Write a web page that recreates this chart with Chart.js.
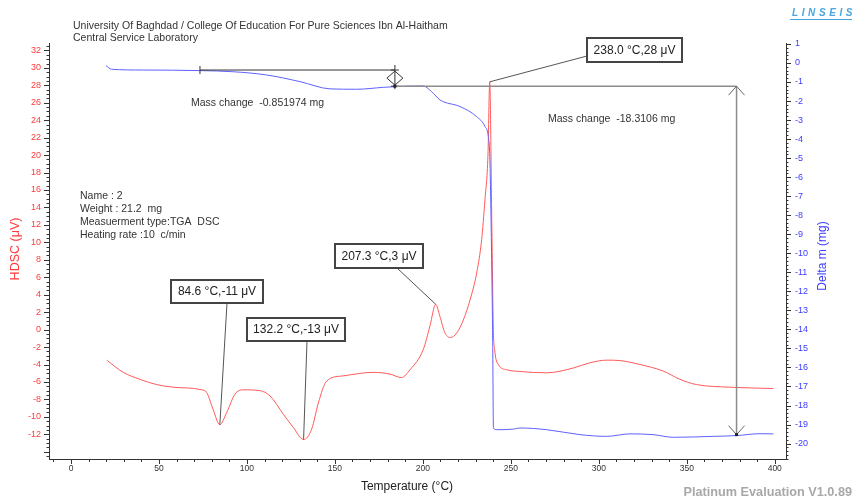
<!DOCTYPE html>
<html>
<head>
<meta charset="utf-8">
<title>TGA / DSC</title>
<script src="https://cdn.jsdelivr.net/npm/chart.js@4.4.1/dist/chart.umd.min.js"></script>
<style>
  html, body { margin: 0; padding: 0; background: #fff; }
  canvas { display: block; }
</style>
</head>
<body>
<canvas id="chart" width="856" height="501"></canvas>
<script>
// HDSC signal, left axis (µV)
const dscTemp = [20.3, 29.7, 39.2, 48.7, 58.1, 74.3, 77.1, 80.7, 84.6, 88.5, 93.2, 97.9,
  107.4, 113.1, 120.7, 126.3, 132.2, 136.8, 140.6, 145.3, 154.8, 171.8, 181.3, 187.9,
  192.7, 200.2, 204.0, 207.3, 209.7, 212.6, 215.8, 219.2, 223.0, 226.8, 230.6, 233.4,
  235.3, 237.0, 238.0, 239.2, 240.0, 240.8, 242.9, 247.6, 255.2, 270.4, 285.5, 295.0,
  304.5, 312.0, 323.4, 336.6, 346.1, 355.6, 374.5, 399.2];
const dscValue = [-3.5, -4.9, -5.7, -6.3, -6.6, -6.9, -7.2, -9.1, -10.9, -9.5, -7.4, -6.9,
  -7.0, -7.6, -9.7, -11.2, -12.6, -11.4, -8.4, -5.9, -5.3, -4.9, -5.1, -5.5,
  -4.6, -2.3, 0.4, 2.9, 1.5, -0.4, -0.9, -0.4, 1.1, 3.4, 6.5, 10.3,
  14.9, 20.0, 28.4, 12.0, 0.4, -2.3, -4.0, -4.6, -4.8, -4.95, -4.4, -3.8,
  -3.5, -3.55, -4.0, -4.75, -5.7, -6.3, -6.6, -6.75];

// Delta m, right axis (mg)
const tgaTemp = [19.9, 23.1, 41.1, 73.3, 92.2, 111.2, 130.2, 147.2, 162.4, 177.5, 185.1,
  200.2, 205.0, 209.7, 221.1, 230.6, 235.3, 237.2, 238.1, 239.1, 239.7, 240.1, 242.0,
  251.4, 255.2, 270.4, 289.3, 304.5, 317.7, 330.9, 342.3, 365.0, 378.3, 391.6, 399.2];
const tgaMass = [-0.14, -0.33, -0.37, -0.40, -0.46, -0.63, -0.98, -1.36, -1.38, -1.28, -1.24,
  -1.21, -1.51, -1.94, -2.29, -2.82, -3.34, -3.87, -5.09, -10.34, -14.7, -19.18, -19.27,
  -19.24, -19.18, -19.27, -19.53, -19.62, -19.49, -19.53, -19.67, -19.62, -19.58, -19.48, -19.49];

const tempTicks = [0, 50, 100, 150, 200, 250, 300, 350, 400];
const dscTicks = [-12, -10, -8, -6, -4, -2, 0, 2, 4, 6, 8, 10, 12, 14, 16, 18, 20, 22, 24, 26, 28, 30, 32];
const massTicks = [-20, -19, -18, -17, -16, -15, -14, -13, -12, -11, -10, -9, -8, -7, -6,
  -5, -4, -3, -2, -1, 0, 1];

// peak markers
const peakTemps = [84.6, 132.2, 207.3, 238.0];
const peakValues = [-10.9, -12.6, 2.9, 28.4];

// mass-change steps
const stepTemps = [73.3, 184.1, 378.3];
const stepLevels = [-0.37, -1.22, -19.53];
const stepLabels = ['-0.851974', '-18.3106'];

const headerLines = ['University Of Baghdad / College Of Education For Pure Sciences Ibn Al-Haitham',
  'Central Service Laboratory'];
const infoLines = ['Name : 2', 'Weight : 21.2  mg', 'Measuerment type:TGA  DSC', 'Heating rate :10  c/min'];

const FONT = '"Liberation Sans", Arial, sans-serif';
const RED = '#ff3a3a';
const BLUE = '#3a3aff';

// where the peak boxes sit (box left/top/width/height, leader start)
const peakBoxes = [
  { left: 171, top: 280, w: 92, h: 23, ax: 227, ay: 303 },
  { left: 247, top: 318, w: 98, h: 23, ax: 307, ay: 341 },
  { left: 335, top: 244, w: 88, h: 24, ax: 397, ay: 268 },
  { left: 587, top: 38, w: 95, h: 24, ax: 587, ay: 56 },
];

function line(ctx, x1, y1, x2, y2) {
  ctx.beginPath();
  ctx.moveTo(x1, y1);
  ctx.lineTo(x2, y2);
  ctx.stroke();
}

function label(ctx, str, x, y, font, color, align = 'left') {
  ctx.font = font;
  ctx.fillStyle = color;
  ctx.textAlign = align;
  ctx.textBaseline = 'middle';
  ctx.fillText(str, x, y);
}

const decorations = {
  id: 'decorations',
  afterDatasetsDraw(chart) {
    const { ctx, scales: { x, y, y2 } } = chart;
    ctx.save();

    // tick marks
    ctx.strokeStyle = '#333';
    ctx.lineWidth = 1;
    for (let i = -1; i <= 40; i++) {
      const px = Math.round(x.getPixelForValue(i * 10)) + 0.5;
      line(ctx, px, x.top, px, x.top + (i % 5 === 0 ? 5 : 3));
    }
    for (let i = -29; i <= 65; i++) {
      const py = Math.round(y.getPixelForValue(i * 0.5)) + 0.5;
      line(ctx, y.right, py, y.right - (i % 4 === 0 ? 5 : 2.5), py);
    }
    for (let i = -104; i <= 5; i++) {
      const py = Math.round(y2.getPixelForValue(i * 0.2)) + 0.5;
      line(ctx, y2.left, py, y2.left + (i % 5 === 0 ? 5 : 2.5), py);
    }

    // mass change brackets
    const sx = stepTemps.map((t) => x.getPixelForValue(t));
    const sy = stepLevels.map((m) => y2.getPixelForValue(m));

    ctx.strokeStyle = '#333';
    line(ctx, sx[0], sy[0], sx[1], sy[0]);
    line(ctx, sx[0], sy[0] - 4, sx[0], sy[0] + 4);
    line(ctx, sx[1], sy[0] - 5, sx[1], sy[1] + 3);
    line(ctx, sx[1] - 4, sy[0], sx[1] + 4, sy[0]);
    line(ctx, sx[1] - 4, sy[1], sx[1] + 4, sy[1]);
    const my = (sy[0] + sy[1]) / 2;
    ctx.beginPath();
    ctx.moveTo(sx[1], my - 7);
    ctx.lineTo(sx[1] + 8, my);
    ctx.lineTo(sx[1], my + 7);
    ctx.lineTo(sx[1] - 8, my);
    ctx.closePath();
    ctx.stroke();

    ctx.strokeStyle = '#8c8c8c';
    ctx.lineWidth = 1.5;
    line(ctx, sx[1], sy[1], sx[2], sy[1]);
    line(ctx, sx[2], sy[1], sx[2], sy[2]);
    ctx.lineWidth = 1;
    ctx.strokeStyle = '#666';
    line(ctx, sx[2], sy[1], sx[2] - 8, sy[1] + 9);
    line(ctx, sx[2], sy[1], sx[2] + 8, sy[1] + 9);
    line(ctx, sx[2], sy[2], sx[2] - 8, sy[2] - 9);
    line(ctx, sx[2], sy[2], sx[2] + 8, sy[2] - 9);
    ctx.fillStyle = '#222';
    ctx.fillRect(sx[2] - 1.5, sy[2] - 1.5, 3, 3);
    ctx.fillRect(sx[1] - 1.5, sy[1] - 1.5, 3, 3);

    const small = '10.5px ' + FONT;
    label(ctx, 'Mass change  ' + stepLabels[0] + ' mg', 191, 103, small, '#333');
    label(ctx, 'Mass change  ' + stepLabels[1] + ' mg', 548, 119, small, '#333');

    // peak boxes
    peakTemps.forEach((t, i) => {
      const b = peakBoxes[i];
      const px = x.getPixelForValue(t);
      const py = y.getPixelForValue(peakValues[i]);
      ctx.strokeStyle = '#555';
      ctx.lineWidth = 1;
      line(ctx, b.ax, b.ay, px, py);
      ctx.fillStyle = '#fff';
      ctx.fillRect(b.left, b.top, b.w, b.h);
      ctx.lineWidth = 2;
      ctx.strokeStyle = '#444';
      ctx.strokeRect(b.left, b.top, b.w, b.h);
      const txt = t.toFixed(1) + ' °C,' + Math.round(peakValues[i]) + ' μV';
      label(ctx, txt, b.left + b.w / 2, b.top + b.h / 2 + 0.5, '12px ' + FONT, '#222', 'center');
    });

    // header, sample info
    headerLines.forEach((s, i) => label(ctx, s, 73, 26 + i * 12.5, small, '#333'));
    infoLines.forEach((s, i) => label(ctx, s, 80, 196 + i * 13.2, small, '#333'));

    // axis titles
    label(ctx, 'Temperature (°C)', 407, 487, '12px ' + FONT, '#222', 'center');
    ctx.save();
    ctx.translate(16, 249);
    ctx.rotate(-Math.PI / 2);
    label(ctx, 'HDSC (μV)', 0, 0, '12.5px ' + FONT, RED, 'center');
    ctx.restore();
    ctx.save();
    ctx.translate(823, 256);
    ctx.rotate(-Math.PI / 2);
    label(ctx, 'Delta m (mg)', 0, 0, '12px ' + FONT, BLUE, 'center');
    ctx.restore();

    // logo and footer
    const logoFont = 'italic bold 10px ' + FONT;
    ctx.font = logoFont;
    let lx = 792;
    for (const ch of 'LINSEIS') {
      label(ctx, ch, lx, 13, logoFont, '#4aa6e0');
      lx += ctx.measureText(ch).width + 3.6;
    }
    ctx.strokeStyle = '#4aa6e0';
    ctx.lineWidth = 1;
    line(ctx, 790, 19.5, 852, 19.5);
    label(ctx, 'Platinum Evaluation V1.0.89', 852, 492, 'bold 12.7px ' + FONT, '#a8a8a8', 'right');

    ctx.restore();
  },
};

const axisBase = {
  type: 'linear',
  grid: { display: true, drawOnChartArea: false, drawTicks: false },
  border: { display: true, color: '#333', width: 1 },
};

new Chart(document.getElementById('chart'), {
  type: 'line',
  data: {
    datasets: [
      {
        label: 'Delta m',
        data: tgaTemp.map((t, i) => ({ x: t, y: tgaMass[i] })),
        yAxisID: 'y2',
        borderColor: '#6060ff',
        borderWidth: 1,
        pointRadius: 0,
        cubicInterpolationMode: 'monotone',
      },
      {
        label: 'HDSC',
        data: dscTemp.map((t, i) => ({ x: t, y: dscValue[i] })),
        yAxisID: 'y',
        borderColor: '#ff5a5a',
        borderWidth: 1,
        pointRadius: 0,
        cubicInterpolationMode: 'monotone',
      },
    ],
  },
  options: {
    responsive: false,
    animation: false,
    layout: { padding: { top: 43, left: 0, right: 0, bottom: 0 } },
    plugins: { legend: { display: false }, tooltip: { enabled: false } },
    scales: {
      x: {
        ...axisBase,
        position: 'bottom',
        min: -12.5,
        max: 406.4,
        afterBuildTicks: (s) => { s.ticks = tempTicks.map((v) => ({ value: v })); },
        afterFit: (s) => { s.height = 42; },
        ticks: { color: '#333', font: { size: 8.5, family: FONT }, padding: 5, maxRotation: 0, autoSkip: false },
      },
      y: {
        ...axisBase,
        position: 'left',
        min: -14.83,
        max: 32.85,
        afterBuildTicks: (s) => { s.ticks = dscTicks.map((v) => ({ value: v })); },
        afterFit: (s) => { s.width = 49; },
        ticks: { color: RED, font: { size: 9, family: FONT }, padding: 8, autoSkip: false },
      },
      y2: {
        ...axisBase,
        position: 'right',
        min: -20.81,
        max: 1.05,
        afterBuildTicks: (s) => { s.ticks = massTicks.map((v) => ({ value: v })); },
        afterFit: (s) => { s.width = 70; },
        ticks: { color: BLUE, font: { size: 9, family: FONT }, padding: 9, autoSkip: false },
      },
    },
  },
  plugins: [decorations],
});
</script>
</body>
</html>
